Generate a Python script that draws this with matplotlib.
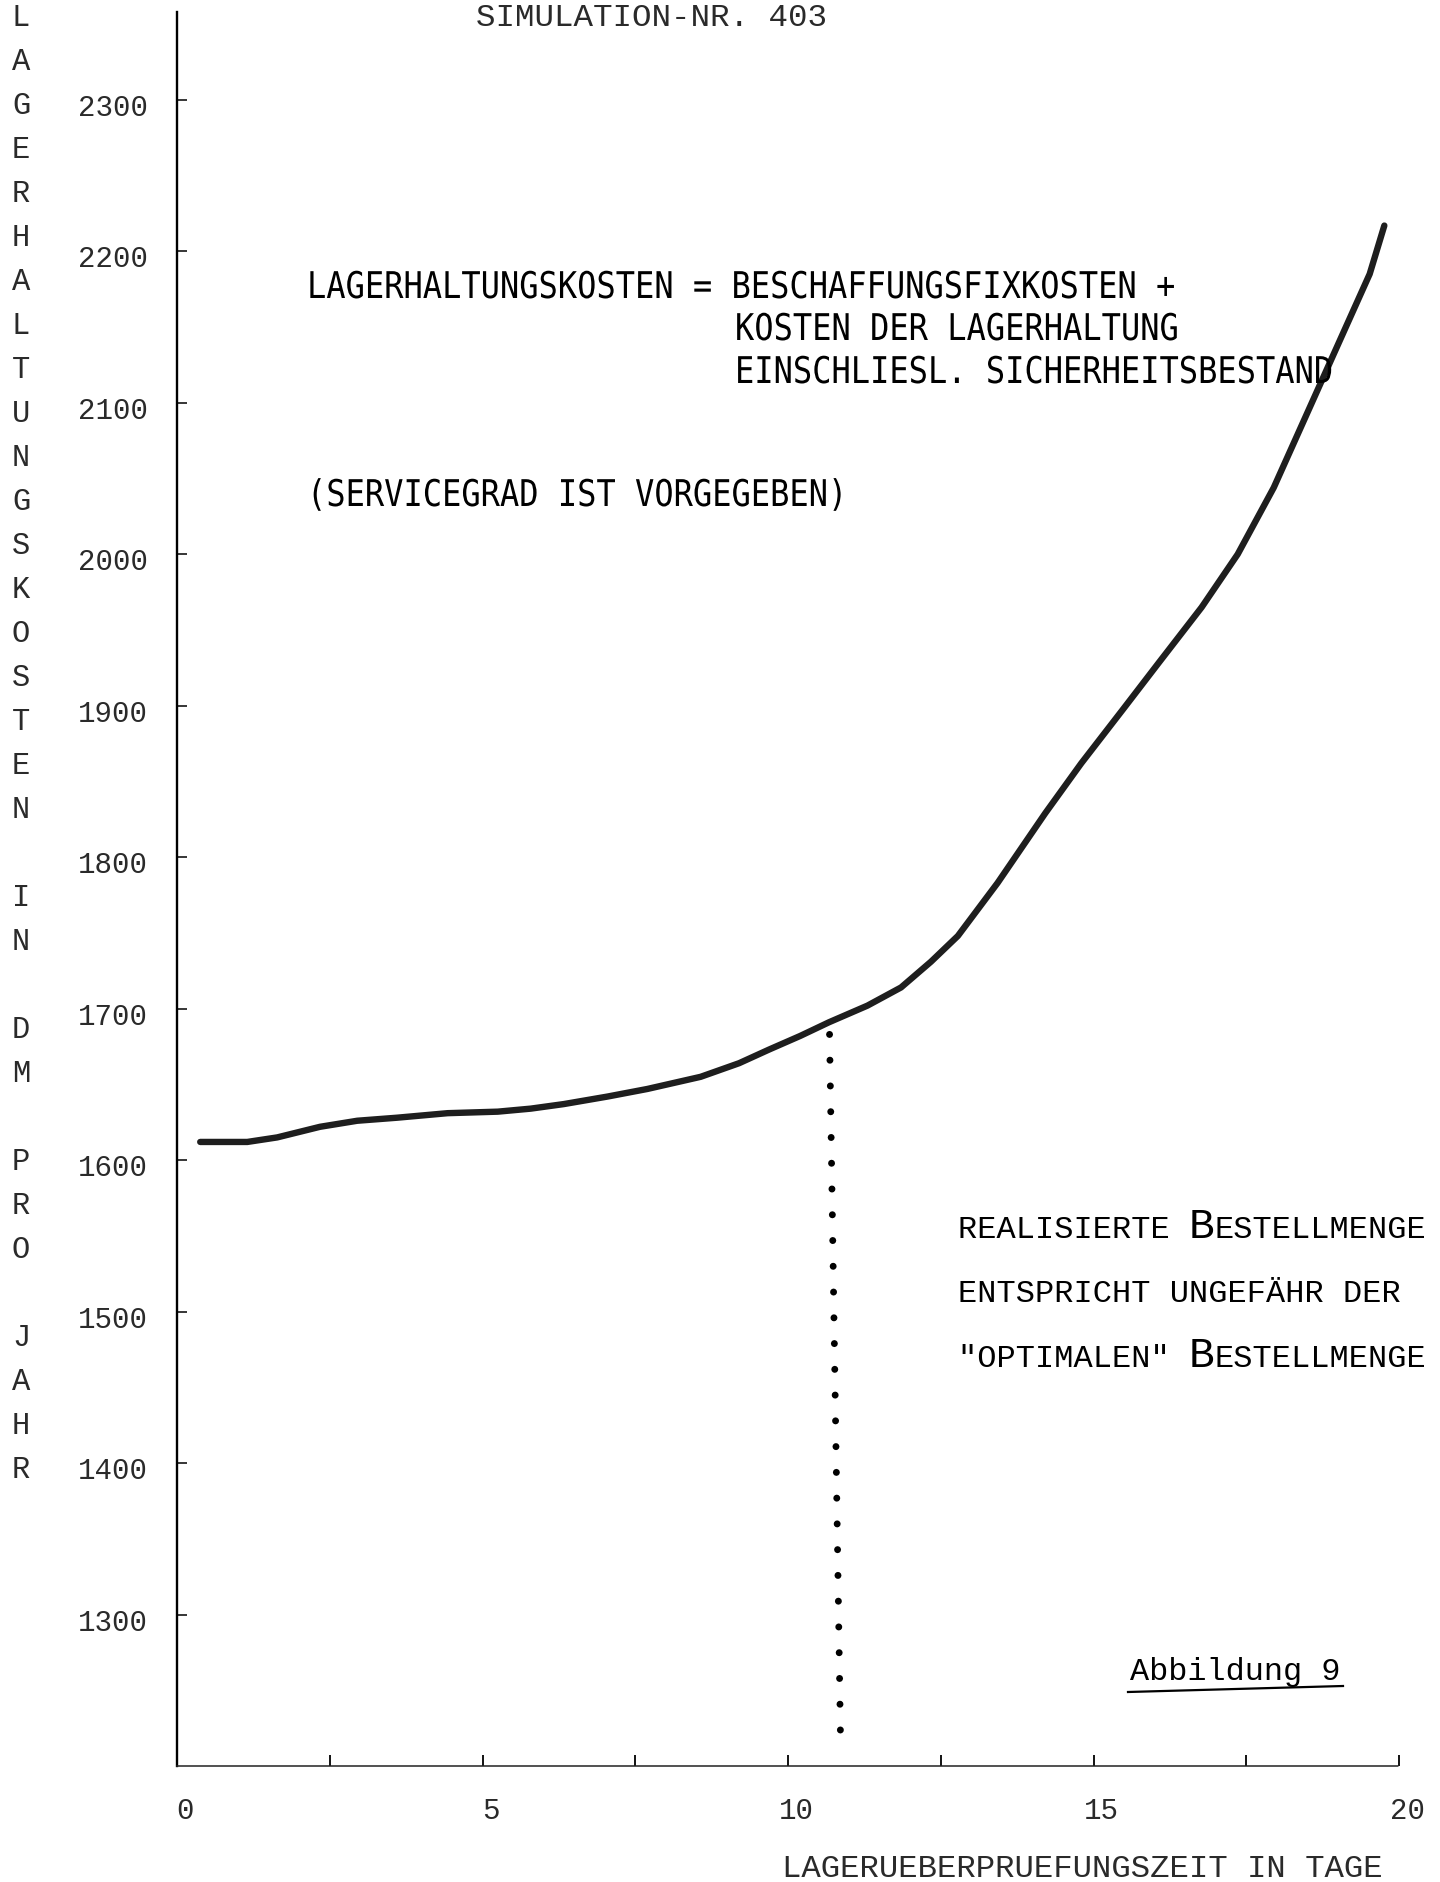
import matplotlib
matplotlib.use("Agg")
import matplotlib.pyplot as plt
from matplotlib.patheffects import AbstractPathEffect
from matplotlib.transforms import Affine2D, ScaledTranslation
from matplotlib.lines import Line2D

# storage cost per year vs. review period (simulation run 403)
review_days = [0.38, 1.15, 1.64, 2.34, 2.95, 3.6, 4.43, 5.25, 5.79, 6.33, 7.05, 7.7,
               8.57, 9.2, 9.69, 10.2, 10.67, 11.3, 11.85, 12.34, 12.78, 13.43, 13.82,
               14.21, 14.8, 15.49, 16.08, 16.77, 17.36, 17.95, 18.54, 19.13, 19.52, 19.76]
storage_cost = [1612, 1612, 1615, 1622, 1626, 1628, 1631, 1632, 1634, 1637, 1642, 1647,
                1655, 1664, 1673, 1682, 1691, 1702, 1714, 1731, 1748, 1783, 1806,
                1829, 1862, 1898, 1929, 1965, 2000, 2044, 2097, 2150, 2185, 2217]

# dotted marker line at the "optimal" order quantity
opt_days = [10.68, 10.86]
opt_cost = [1683, 1217]

x_ticks = [0, 5, 10, 15, 20]
x_minor = [2.5, 7.5, 12.5, 17.5]
y_ticks = [1300, 1400, 1500, 1600, 1700, 1800, 1900, 2000, 2100, 2200, 2300]
y_title = "LAGERHALTUNGSKOSTEN IN DM PRO JAHR"
x_title = "LAGERUEBERPRUEFUNGSZEIT IN TAGE"
run_title = "SIMULATION-NR. 403"
formula = ["LAGERHALTUNGSKOSTEN = BESCHAFFUNGSFIXKOSTEN +",
           "KOSTEN DER LAGERHALTUNG",
           "EINSCHLIESL. SICHERHEITSBESTAND"]
service_note = "(SERVICEGRAD IST VORGEGEBEN)"
note_lines = [[("REALISIERTE ", 0), ("B", 1), ("ESTELLMENGE", 0)],
              [("ENTSPRICHT UNGEFÄHR DER", 0)],
              [('"OPTIMALEN" ', 0), ("B", 1), ("ESTELLMENGE", 0)]]
fig_label = "Abbildung 9"

W, H = 1440, 1882
MONO = "Liberation Mono"
INK = "#1e1e1e"
plt.rcParams["font.family"] = [MONO, "DejaVu Sans"]


class Squeeze(AbstractPathEffect):
    """Narrow the glyphs horizontally around the text anchor."""

    def __init__(self, sx):
        super().__init__()
        self.sx = sx

    def draw_path(self, renderer, gc, tpath, affine, rgbFace=None):
        renderer.draw_path(gc, tpath, Affine2D().scale(self.sx, 1) + affine, rgbFace)


fig = plt.figure(figsize=(W / 100, H / 100), dpi=100)
fig.patch.set_facecolor("white")
ax = fig.add_axes([177 / W, 1 - 1766 / H, (1399 - 177) / W, (1766 - 12) / H])
renderer = fig.canvas.get_renderer()


def fx(px):
    return px / W


def fy(py):
    return 1 - py / H


def fit_text(x, y, s, width, **kw):
    t = fig.text(fx(x), fy(y), s, fontsize=20, **kw)
    w = t.get_window_extent(renderer).width
    t.set_fontsize(20 * width / w)
    return t


# curve and the dotted drop line
ax.plot(review_days, storage_cost, color=INK, lw=4.6,
        solid_capstyle="round", solid_joinstyle="round")
ax.plot(opt_days, opt_cost, color="black", lw=5,
        linestyle=(0, (0.01, 3.7)), dash_capstyle="round")

ax.set_xlim(0, 20)
ax.set_ylim(1200, 2358)

for s in ["top", "right"]:
    ax.spines[s].set_visible(False)
ax.spines["left"].set_linewidth(1.7)
ax.spines["left"].set_color("black")
ax.spines["bottom"].set_linewidth(1.1)
ax.spines["bottom"].set_linestyle((0, (3, 1)))
ax.spines["bottom"].set_color("#222222")

ax.set_xticks(x_ticks)
ax.set_xticks(x_minor, minor=True)
ax.set_yticks(y_ticks)
ax.tick_params(axis="x", which="both", direction="in", length=8, width=1.3,
               pad=22, labelsize=21, labelcolor="#2a2a2a")
ax.tick_params(axis="y", direction="in", length=7, width=1.1,
               pad=21, labelsize=21, labelcolor="#2a2a2a")
for lbl in ax.get_xticklabels():
    lbl.set_transform(lbl.get_transform() + ScaledTranslation(0.08, 0, fig.dpi_scale_trans))
for lbl in ax.get_yticklabels():
    lbl.set_transform(lbl.get_transform() + ScaledTranslation(0, -0.05, fig.dpi_scale_trans))

# vertical axis title, one letter per line
for i, ch in enumerate(y_title):
    if ch != " ":
        fig.text(fx(21), fy(18 + i * 44), ch, fontsize=22, color="#2a2a2a",
                 ha="center", va="center")

fit_text(476, 26, run_title, 350, color="#2a2a2a", va="baseline")
fit_text(782, 1877, x_title, 600, color="#2a2a2a", va="baseline")

# cost formula block in a narrowed typewriter face
FS = 26.5
t1 = fig.text(fx(307), fy(298), formula[0], fontsize=FS, family="DejaVu Sans Mono",
              color="black", va="baseline")
squeeze = [Squeeze(867 / t1.get_window_extent(renderer).width)]
t1.set_path_effects(squeeze)
for txt, x, y in [(formula[1], 735, 340), (formula[2], 735, 383), (service_note, 307, 506)]:
    fig.text(fx(x), fy(y), txt, fontsize=FS, family="DejaVu Sans Mono", color="black",
             va="baseline", path_effects=squeeze)

# small-caps note about the realised order quantity
small, big = 23, 31
for row, base in zip(note_lines, [1238, 1302, 1367]):
    x = 958
    for txt, is_big in row:
        t = fig.text(fx(x), fy(base), txt, fontsize=big if is_big else small,
                     color="black", va="baseline")
        x += t.get_window_extent(renderer).width

fit_text(1130, 1680, fig_label, 210, color="black", va="baseline")
fig.add_artist(Line2D([fx(1128), fx(1343)], [fy(1692), fy(1686)],
                      color="black", lw=1.6))

fig.savefig("out.png", dpi=100)
